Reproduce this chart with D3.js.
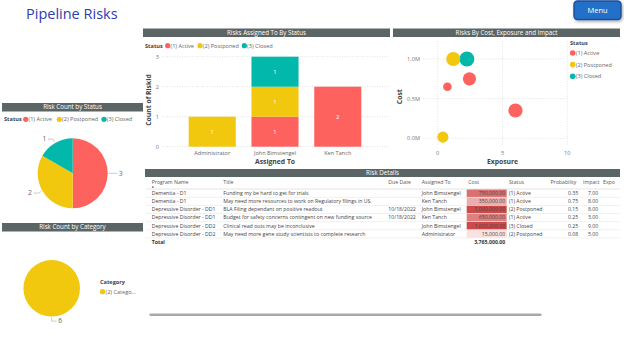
<!DOCTYPE html>
<html>
<head>
<meta charset="utf-8">
<script src="https://cdn.jsdelivr.net/npm/d3@7"></script>
<style>
  body { margin: 0; background: #fff; }
  svg { display: block; font-family: "Segoe UI", "Open Sans", sans-serif; }
</style>
</head>
<body>
<svg id="page"></svg>
<script>
// Status palette
const statusNames = ["(1) Active", "(2) Postponed", "(3) Closed"];
const statusColors = ["#FD625E", "#F2C80F", "#01B8AA"];

// Risks assigned to, stacked by status
const assignees = ["Administrator", "John Bimstengel", "Ken Tanch"];
const activeCounts = [0, 1, 2];
const postponedCounts = [1, 1, 0];
const closedCounts = [0, 1, 0];

// Risk count by status / category
const statusCounts = [3, 2, 1];
const categoryNames = ["(2) Catego..."];
const categoryCounts = [6];

// Risk details rows
const programs = ["Dementia - D1", "Dementia - D1", "Depressive Disorder - DD1",
  "Depressive Disorder - DD1", "Depressive Disorder - DD2", "Depressive Disorder - DD2"];
const titles = ["Funding my be hard to get for trials",
  "May need more resources to work on Regulatory filings in US.",
  "BLA Filing dependant on positive readout",
  "Budget for safety concerns contingent on new funding source",
  "Clinical read outs may be inconclusive",
  "May need more gene study scientists to complete research"];
const dueDates = ["", "", "10/18/2022", "10/18/2022", "", ""];
const owners = ["John Bimstengel", "Ken Tanch", "John Bimstengel", "Ken Tanch", "John Bimstengel", "Administrator"];
const costs = [750000, 350000, 1000000, 650000, 1000000, 15000];
const statuses = ["(1) Active", "(1) Active", "(2) Postponed", "(1) Active", "(3) Closed", "(2) Postponed"];
const probabilities = [0.35, 0.75, 0.15, 0.25, 0.25, 0.08];
const impacts = [7, 8, 8, 3, 9, 5];
const exposures = [2.45, 6.0, 1.2, 0.75, 2.25, 0.4];
const costTotal = "3,765,000.00";

const W = 624, H = 348;
const svg = d3.select("#page").attr("width", W).attr("height", H);
svg.append("rect").attr("width", W).attr("height", H).attr("fill", "#fff");

const statusColor = d3.scaleOrdinal().domain(statusNames).range(statusColors);

const defs = svg.append("defs");
const shadow = defs.append("filter").attr("id", "shadow")
  .attr("x", "-20%").attr("y", "-20%").attr("width", "150%").attr("height", "170%");
shadow.append("feDropShadow").attr("dx", 1).attr("dy", 1.5).attr("stdDeviation", 1.5)
  .attr("flood-color", "#000").attr("flood-opacity", 0.35);

// Page title + menu button
svg.append("text").attr("x", 26).attr("y", 19)
  .style("font-size", "14.5px").style("fill", "#2F3CB0").text("Pipeline Risks");

const menu = svg.append("g");
menu.append("rect").attr("x", 574).attr("y", 1).attr("width", 47).attr("height", 18.5).attr("rx", 3.5)
  .attr("fill", "#2470C8").attr("stroke", "#1B4E9A").attr("stroke-width", 1.4).attr("filter", "url(#shadow)");
menu.append("text").attr("x", 597.5).attr("y", 13).attr("text-anchor", "middle")
  .style("font-size", "7.5px").style("fill", "#fff").text("Menu");

// Dark header bar used by every visual
function header(x, y, w, h, label) {
  svg.append("rect").attr("x", x).attr("y", y).attr("width", w).attr("height", h).attr("fill", "#5B6566");
  svg.append("text").attr("x", x + w / 2).attr("y", y + h / 2).attr("dy", "0.35em")
    .attr("text-anchor", "middle").style("font-size", "6.2px").style("fill", "#fff").text(label);
}

function legendRow(x, y, items, gap) {
  const g = svg.append("g").attr("transform", `translate(${x},${y})`);
  g.append("text").attr("dy", "0.35em").style("font-size", "5.6px").style("font-weight", "bold")
    .style("fill", "#444").text("Status");
  let cx = gap[0];
  items.forEach((name, i) => {
    g.append("circle").attr("cx", cx).attr("r", 2.6).attr("fill", statusColor(name));
    g.append("text").attr("x", cx + 2.8).attr("dy", "0.35em").style("font-size", "5.6px")
      .style("fill", "#666").text(name);
    cx += gap[i + 1] || 0;
  });
}

// ---- Risks Assigned To By Status (stacked columns)
header(143, 28.5, 247, 8.5, "Risks Assigned To By Status");
legendRow(145, 45.7, statusNames, [22.7, 32.3, 44.3]);

const barRows = assignees.map((a, i) => ({
  name: a, active: activeCounts[i], postponed: postponedCounts[i], closed: closedCounts[i]
}));
const stack = d3.stack().keys(["active", "postponed", "closed"])(barRows);
const xBar = d3.scaleBand().domain(assignees).range([173, 377]).paddingInner(0.25).paddingOuter(0.25);
const yBar = d3.scaleLinear().domain([0, 3]).range([146.7, 56.7]);

svg.append("g").selectAll("line").data(yBar.ticks(3)).join("line")
  .attr("x1", 162).attr("x2", 388).attr("y1", d => yBar(d)).attr("y2", d => yBar(d))
  .attr("stroke", "#cfcfcf").attr("stroke-width", 0.6).attr("stroke-dasharray", "1,1.5");
svg.append("g").selectAll("text").data(yBar.ticks(3)).join("text")
  .attr("x", 159).attr("y", d => yBar(d)).attr("dy", "0.35em").attr("text-anchor", "end")
  .style("font-size", "5.6px").style("fill", "#777").text(d3.format("d"));

stack.forEach((layer, li) => {
  const g = svg.append("g");
  const segs = layer.filter(d => d[1] - d[0] > 0);
  g.selectAll("rect").data(segs).join("rect")
    .attr("x", d => xBar(d.data.name)).attr("width", xBar.bandwidth())
    .attr("y", d => yBar(d[1])).attr("height", d => yBar(d[0]) - yBar(d[1]))
    .attr("fill", statusColors[li]);
  g.selectAll("text").data(segs).join("text")
    .attr("x", d => xBar(d.data.name) + xBar.bandwidth() / 2)
    .attr("y", d => (yBar(d[0]) + yBar(d[1])) / 2).attr("dy", "0.35em")
    .attr("text-anchor", "middle").style("font-size", "5.8px").style("fill", "#fff")
    .text(d => d[1] - d[0]);
});

svg.append("g").selectAll("text").data(assignees).join("text")
  .attr("x", d => xBar(d) + xBar.bandwidth() / 2).attr("y", 152.7).attr("dy", "0.35em")
  .attr("text-anchor", "middle").style("font-size", "5.6px").style("fill", "#666").text(d => d);
svg.append("text").attr("x", 275).attr("y", 162).attr("dy", "0.35em").attr("text-anchor", "middle")
  .style("font-size", "6.8px").style("font-weight", "bold").style("fill", "#444").text("Assigned To");
svg.append("text").attr("transform", "translate(148.5,100) rotate(-90)").attr("dy", "0.35em")
  .attr("text-anchor", "middle").style("font-size", "6.8px").style("font-weight", "bold")
  .style("fill", "#444").text("Count of RiskId");

// ---- Risks By Cost, Exposure and Impact (bubbles)
header(393, 28.5, 227, 8.5, "Risks By Cost, Exposure and Impact");

const xS = d3.scaleLinear().domain([0, 10]).range([437.7, 567.3]);
const yS = d3.scaleLinear().domain([0, 1000000]).range([138.3, 59]);
const rS = d3.scaleSqrt().domain([0, 9]).range([0, 7.5]);

svg.append("g").selectAll("line").data([0, 500000, 1000000]).join("line")
  .attr("x1", 423).attr("x2", 567).attr("y1", d => yS(d)).attr("y2", d => yS(d))
  .attr("stroke", "#d2d2d2").attr("stroke-width", 0.6).attr("stroke-dasharray", "1,1.5");
svg.append("g").selectAll("line").data([0, 5, 10]).join("line")
  .attr("y1", 41).attr("y2", 146).attr("x1", d => xS(d)).attr("x2", d => xS(d))
  .attr("stroke", "#d2d2d2").attr("stroke-width", 0.6).attr("stroke-dasharray", "1,1.5");
svg.append("g").selectAll("text").data([0, 500000, 1000000]).join("text")
  .attr("x", 420).attr("y", d => yS(d)).attr("dy", "0.35em").attr("text-anchor", "end")
  .style("font-size", "5.6px").style("fill", "#777").text(d => d3.format(".1f")(d / 1e6) + "M");
svg.append("g").selectAll("text").data([0, 5, 10]).join("text")
  .attr("x", d => xS(d)).attr("y", 152.7).attr("dy", "0.35em").attr("text-anchor", "middle")
  .style("font-size", "5.6px").style("fill", "#777").text(d => d);
svg.append("text").attr("x", 502.5).attr("y", 162).attr("dy", "0.35em").attr("text-anchor", "middle")
  .style("font-size", "6.8px").style("font-weight", "bold").style("fill", "#444").text("Exposure");
svg.append("text").attr("transform", "translate(400,96.7) rotate(-90)").attr("dy", "0.35em")
  .attr("text-anchor", "middle").style("font-size", "6.8px").style("font-weight", "bold")
  .style("fill", "#444").text("Cost");

const bubbles = costs.map((c, i) => ({ cost: c, exposure: exposures[i], impact: impacts[i], status: statuses[i] }))
  .sort((a, b) => b.impact - a.impact);
svg.append("g").selectAll("circle").data(bubbles).join("circle")
  .attr("cx", d => xS(d.exposure)).attr("cy", d => yS(d.cost)).attr("r", d => rS(d.impact))
  .attr("fill", d => statusColor(d.status));

const sLeg = svg.append("g").attr("transform", "translate(570,43.3)");
sLeg.append("text").attr("dy", "0.35em").style("font-size", "5.6px").style("font-weight", "bold")
  .style("fill", "#444").text("Status");
statusNames.forEach((name, i) => {
  const y = 9.7 + i * 11.6;
  sLeg.append("circle").attr("cx", 2.7).attr("cy", y).attr("r", 2.8).attr("fill", statusColor(name));
  sLeg.append("text").attr("x", 5.8).attr("y", y).attr("dy", "0.35em").style("font-size", "5.6px")
    .style("fill", "#666").text(name);
});

// ---- Risk Count by Status (pie)
header(2, 103, 141, 8.5, "Risk Count by Status");
legendRow(4, 119.3, statusNames, [21.7, 33.6, 44.7]);

function drawPie(cx, cy, r, values, colors, labels) {
  const g = svg.append("g").attr("transform", `translate(${cx},${cy})`);
  const arcs = d3.pie().sort(null)(values);
  g.selectAll("path").data(arcs).join("path")
    .attr("d", d3.arc().innerRadius(0).outerRadius(r)).attr("fill", (d, i) => colors[i]);
  arcs.forEach((d, i) => {
    const a = (d.startAngle + d.endAngle) / 2;
    const p0 = [Math.sin(a) * (r + 1), -Math.cos(a) * (r + 1)];
    const p1 = [Math.sin(a) * (r + 4.5), -Math.cos(a) * (r + 4.5)];
    const side = Math.sin(a) < -0.001 ? -1 : 1;
    const p2 = [p1[0] + side * 5, p1[1]];
    g.append("polyline").attr("points", [p0, p1, p2].map(p => p.join(",")).join(" "))
      .attr("fill", "none").attr("stroke", "#aaa").attr("stroke-width", 0.6);
    g.append("text").attr("x", p2[0] + side * 1.5).attr("y", p2[1]).attr("dy", "0.35em")
      .attr("text-anchor", side > 0 ? "start" : "end")
      .style("font-size", "6.8px").style("fill", "#666").text(labels[i]);
  });
}
drawPie(72.7, 173.3, 35, statusCounts, statusColors, statusCounts);

// ---- Risk Count by Category (pie)
header(2, 223, 141, 8.5, "Risk Count by Category");
drawPie(51.7, 288.3, 28.3, categoryCounts, [statusColors[1]], categoryCounts);
svg.append("text").attr("x", 100).attr("y", 282.3).attr("dy", "0.35em").style("font-size", "5.6px")
  .style("font-weight", "bold").style("fill", "#444").text("Category");
categoryNames.forEach((name, i) => {
  svg.append("circle").attr("cx", 102.5).attr("cy", 291.7 + i * 10).attr("r", 2.6).attr("fill", statusColors[1]);
  svg.append("text").attr("x", 105.5).attr("y", 291.7 + i * 10).attr("dy", "0.35em")
    .style("font-size", "5.6px").style("fill", "#666").text(name);
});

// ---- Risk Details (table); the last column is cut by the visual's right edge
header(145, 169, 475, 8, "Risk Details");

const tg = svg.append("g");

const columns = [
  { head: "Program Name", hx: 151.7, x: 151.7, anchor: "start", val: i => programs[i] },
  { head: "Title", hx: 223.3, x: 223.3, anchor: "start", val: i => titles[i] },
  { head: "Due Date", hx: 388.3, x: 388.3, anchor: "start", val: i => dueDates[i] },
  { head: "Assigned To", hx: 421.7, x: 421.7, anchor: "start", val: i => owners[i] },
  { head: "Cost", hx: 468.3, x: 505.3, anchor: "end", val: i => d3.format(",.2f")(costs[i]) },
  { head: "Status", hx: 509, x: 509, anchor: "start", val: i => statuses[i] },
  { head: "Probability", hx: 550.5, x: 578.3, anchor: "end", val: i => d3.format(".2f")(probabilities[i]) },
  { head: "Impact", hx: 583, x: 598.3, anchor: "end", val: i => d3.format(".2f")(impacts[i]) }
];
const rowY = d3.range(programs.length).map(i => 193.3 + i * 8.1);
const costFill = d3.scaleLinear().domain([0, 1000000]).range(["#fbe4e4", "#cd4a4a"]);

tg.selectAll("text.head").data(columns).join("text").attr("class", "head")
  .attr("x", d => d.hx).attr("y", 182).attr("dy", "0.35em")
  .style("font-size", "5.2px").style("fill", "#555").text(d => d.head);
// clipped "Exposure" heading at the right edge
tg.append("text").attr("x", 603).attr("y", 182).attr("dy", "0.35em")
  .style("font-size", "5.2px").style("fill", "#555").text("Expo");
tg.append("path").attr("d", "M151.7,187.6 l1.2,-1.6 l1.2,1.6 z").attr("fill", "#333");
tg.append("line").attr("x1", 146).attr("x2", 620).attr("y1", 189).attr("y2", 189)
  .attr("stroke", "#c8c8c8").attr("stroke-width", 0.5);

rowY.forEach((y, i) => {
  tg.append("rect").attr("x", 466.7).attr("y", y - 3.8).attr("width", 40).attr("height", 7.6)
    .attr("fill", costFill(costs[i]));
  tg.append("line").attr("x1", 146).attr("x2", 620).attr("y1", y + 4.05).attr("y2", y + 4.05)
    .attr("stroke", "#e3e3e3").attr("stroke-width", 0.5);
  columns.forEach(c => {
    tg.append("text").attr("x", c.x).attr("y", y).attr("dy", "0.35em").attr("text-anchor", c.anchor)
      .style("font-size", "5.2px").style("fill", "#444").text(c.val(i));
  });
});

const totalY = 193.3 + programs.length * 8.1;
tg.append("text").attr("x", 151.7).attr("y", totalY).attr("dy", "0.35em")
  .style("font-size", "5.2px").style("font-weight", "bold").style("fill", "#333").text("Total");
tg.append("text").attr("x", 505.3).attr("y", totalY).attr("dy", "0.35em").attr("text-anchor", "end")
  .style("font-size", "5.2px").style("font-weight", "bold").style("fill", "#333").text(costTotal);

// horizontal scrollbar under the table
svg.append("rect").attr("x", 149.3).attr("y", 313.4).attr("width", 392.4).attr("height", 2.6)
  .attr("rx", 1.3).attr("fill", "#a9a9a9");
</script>
</body>
</html>
